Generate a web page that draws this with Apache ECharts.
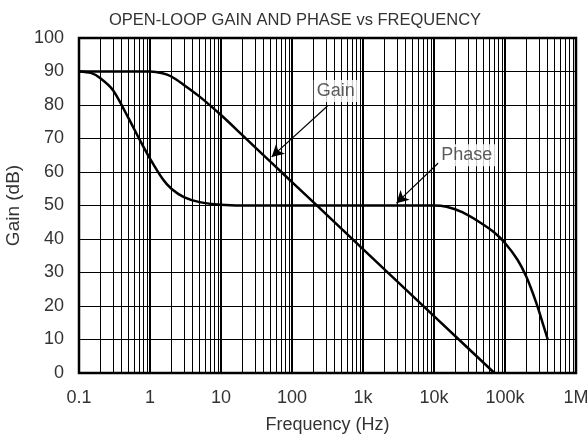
<!DOCTYPE html>
<html><head><meta charset="utf-8">
<script src="https://cdn.jsdelivr.net/npm/echarts@6/dist/echarts.min.js"></script>
<style>html,body{margin:0;padding:0;background:#fff}#c{width:588px;height:437px}</style>
</head><body><div id="c"></div>
<script>
// Gain curve (Hz, dB)
const gainFreq = [0.1, 0.5, 1, 1.5, 2, 3, 5, 10, 20, 50, 100, 200, 1000, 10000, 71000];
const gainDb   = [90, 90, 90, 89.5, 88.5, 86, 82.5, 77, 71, 63, 57, 51, 37, 17, 0];
// Phase curve (Hz, value on the same scale)
const phaseFreq = [0.1, 0.15, 0.2, 0.3, 0.5, 0.7, 1, 1.5, 2, 3, 5, 10, 20, 10000, 15000, 25000, 44000, 70000, 100000, 150000, 200000, 275000, 350000, 400000];
const phaseVal  = [90, 89.5, 88, 84.5, 76, 70, 64, 58, 55, 52.5, 51, 50.2, 50, 50, 49.6, 48, 45, 42, 38.8, 33.8, 28.7, 21, 14, 10];
// Axis tick labels
const xTickValues = [0.1, 1, 10, 100, 1000, 10000, 100000, 1000000];
const xTickLabels = ['0.1', '1', '10', '100', '1k', '10k', '100k', '1M'];
const minorMultipliers = [2, 3, 4, 5, 6, 7, 8, 9];
// Annotations: [label, textFreq, textVal, arrowFromFreq, arrowFromVal, arrowToFreq, arrowToVal]
const annotGain  = ['Gain', 412, 84.2, 316, 79.7, 51.7, 64.5];
const annotPhase = ['Phase', 29000, 65, 11500, 62.7, 2960, 50.7];

const minorGrid = [];
for (let d = 0; d < xTickValues.length - 1; d++) {
  for (const m of minorMultipliers) minorGrid.push(+(xTickValues[d] * m).toPrecision(6));
}
function labelFor(v) {
  for (let i = 0; i < xTickValues.length; i++) {
    if (Math.abs(Math.log10(v) - Math.log10(xTickValues[i])) < 1e-6) return xTickLabels[i];
  }
  return '';
}
const font = "'Liberation Sans', Arial, Helvetica, sans-serif";
const txt = '#333';
const chart = echarts.init(document.getElementById('c'), null, {renderer: 'canvas'});
const annots = [annotGain, annotPhase];
chart.setOption({
  animation: false,
  title: {
    text: 'OPEN-LOOP GAIN AND PHASE vs FREQUENCY',
    left: 290, top: 7, textAlign: 'center',
    textStyle: {fontFamily: font, fontSize: 16.5, fontWeight: 'normal', color: txt}
  },
  grid: {left: 79, right: 12, top: 38, bottom: 64, containLabel: false, outerBoundsMode: 'none',
         show: true, borderColor: '#000', borderWidth: 2.5, backgroundColor: 'transparent'},
  xAxis: {
    type: 'log', logBase: 10, min: 0.1, max: 1000000, splitNumber: 7,
    name: 'Frequency (Hz)', nameLocation: 'middle', nameGap: 43,
    nameTextStyle: {fontFamily: font, fontSize: 18, color: txt},
    axisLine: {show: false}, axisTick: {show: false},
    axisLabel: {fontFamily: font, fontSize: 18, color: txt, margin: 16, formatter: labelFor},
    splitLine: {show: true, lineStyle: {color: '#000', width: 2}}
  },
  yAxis: {
    type: 'value', min: 0, max: 100, interval: 10,
    name: 'Gain (dB)', nameLocation: 'middle', nameGap: 50,
    nameTextStyle: {fontFamily: font, fontSize: 19, color: txt},
    axisLine: {show: false}, axisTick: {show: false},
    axisLabel: {fontFamily: font, fontSize: 18, color: txt, margin: 15},
    splitLine: {show: true, lineStyle: {color: '#000', width: 1}}
  },
  series: [
    {
      type: 'line', data: [], silent: true,
      markLine: {
        silent: true, symbol: 'none', label: {show: false},
        lineStyle: {color: '#000', width: 1, type: 'solid'},
        data: minorGrid.map(v => ({xAxis: v}))
      }
    },
    {
      name: 'Gain', type: 'line', smooth: 0.3, symbol: 'none',
      lineStyle: {color: '#000', width: 2.5},
      data: gainFreq.map((f, i) => [f, gainDb[i]]), z: 5
    },
    {
      name: 'Phase', type: 'line', smooth: 0.3, symbol: 'none',
      lineStyle: {color: '#000', width: 2.5},
      data: phaseFreq.map((f, i) => [f, phaseVal[i]]), z: 5
    },
    {
      type: 'line', data: [], silent: true, z: 6,
      markLine: {
        silent: true, symbol: ['none', 'arrow'], symbolSize: [10, 12], label: {show: false},
        lineStyle: {color: '#000', width: 1.2, type: 'solid'},
        data: annots.map(a => [{coord: [a[3], a[4]]}, {coord: [a[5], a[6]]}])
      }
    },
    {
      type: 'scatter', symbolSize: 1, silent: true, z: 7,
      itemStyle: {color: 'transparent'},
      label: {
        show: true, position: 'inside', formatter: p => p.data[2],
        fontFamily: font, fontSize: 18, color: txt,
        backgroundColor: '#fff', padding: [2, 3]
      },
      data: annots.map(a => [a[1], a[2], a[0]])
    }
  ]
});
</script></body></html>
